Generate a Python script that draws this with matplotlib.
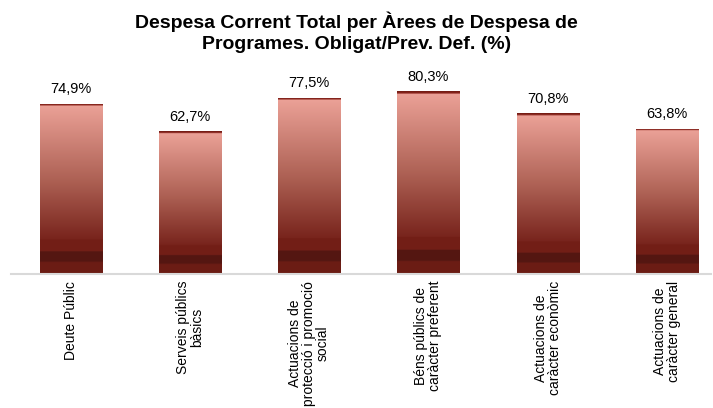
import numpy as np
import matplotlib.pyplot as plt
from matplotlib.colors import LinearSegmentedColormap

plt.rcParams['font.family'] = ['Liberation Sans', 'DejaVu Sans']

categories = ['Deute Públic', 'Serveis públics\nbàsics',
              'Actuacions de\nprotecció i promoció\nsocial',
              'Béns públics de\ncaràcter preferent',
              'Actuacions de\ncaràcter econòmic',
              'Actuacions de\ncaràcter general']
values = [74.9, 62.7, 77.5, 80.3, 70.8, 63.8]
labels = ['74,9%', '62,7%', '77,5%', '80,3%', '70,8%', '63,8%']

# gradient used inside each bar, from bottom (0) to top (1)
grad = LinearSegmentedColormap.from_list('bar', [
    (0.00, (0.42, 0.11, 0.08)),
    (0.07, (0.42, 0.11, 0.08)),
    (0.071, (0.33, 0.09, 0.07)),
    (0.13, (0.33, 0.09, 0.07)),
    (0.131, (0.45, 0.12, 0.09)),
    (0.20, (0.45, 0.12, 0.09)),
    (0.201, (0.47, 0.14, 0.11)),
    (0.55, (0.68, 0.38, 0.33)),
    (0.985, (0.92, 0.63, 0.59)),
    (0.99, (0.55, 0.15, 0.12)),
    (1.00, (0.45, 0.11, 0.08)),
])

fig = plt.figure(figsize=(7.13, 4.08), dpi=100)
ax = fig.add_axes([11 / 713, 1 - 274 / 408, 700 / 713, 216 / 408])

x = np.arange(len(values))
w = 0.52
bars = ax.bar(x, values, width=w, color='none', edgecolor='none')
g = np.linspace(0, 1, 256).reshape(-1, 1)
for b in bars:
    im = ax.imshow(g, cmap=grad, origin='lower', aspect='auto',
                   extent=[b.get_x(), b.get_x() + b.get_width(), 0, b.get_height()],
                   interpolation='bilinear', zorder=2)
    im.set_clip_path(b)

for xi, v, lab in zip(x, values, labels):
    ax.text(xi, v + 3.3, lab, ha='center', va='bottom', fontsize=10.5, color='black')

ax.set_xlim(-0.5, 5.37)
ax.set_ylim(0, 95)
ax.set_yticks([])
ax.set_xticks(x)
ax.set_xticklabels(categories, rotation=90, fontsize=10, ha='center', va='top',
                   multialignment='center', linespacing=1.0)
ax.tick_params(axis='x', length=0, pad=5)
for s in ['top', 'right', 'left']:
    ax.spines[s].set_visible(False)
ax.spines['bottom'].set_color('#d9d9d9')
ax.spines['bottom'].set_linewidth(1.5)

fig.suptitle('Despesa Corrent Total per Àrees de Despesa de\nProgrames. Obligat/Prev. Def. (%)',
             fontsize=14, fontweight='bold', y=0.972, linespacing=1.3)

fig.savefig('out.png', dpi=100)
